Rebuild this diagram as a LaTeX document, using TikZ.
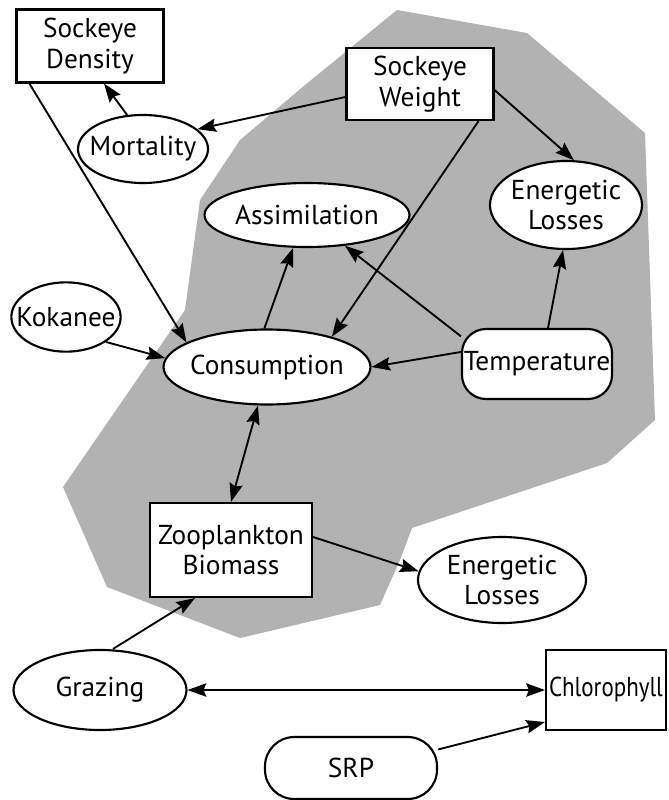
\documentclass[tikz,border=0pt]{standalone}
\usepackage{fontspec}
\setmainfont{PT Sans}
\usetikzlibrary{shapes.geometric,arrows.meta}
\newcommand\lbfont{\fontsize{20.5}{23}\selectfont}
\begin{document}
\begin{tikzpicture}[x=0.75pt,y=-0.75pt,
  base/.style={draw,line width=1.6pt,fill=white,inner sep=0pt},
  box/.style={base,rectangle},
  oval/.style={base,ellipse},
  pill/.style={base,rectangle,rounded corners=18pt},
  txt/.style={label={[align=center,font=\lbfont]center:#1}},
  tip/.tip={Stealth[length=14pt,width=10pt,inset=2pt]},
  arr/.style={line width=1.4pt,-tip},
  darr/.style={line width=1.4pt,tip-tip},
]
\useasboundingbox (0,0) rectangle (668,800);
\fill[white] (0,0) rectangle (668,800);
% shaded region
\fill[black!30] (397,10) -- (527,33) -- (645,133) -- (655,420) -- (607,463)
  -- (427,523) -- (412,528) -- (400,560) -- (380,605) -- (240,638) -- (107,587)
  -- (63,487) -- (185,310) -- (200,200) -- (240,140) -- (305,85) -- cycle;

% nodes
\node[box, minimum width=110.25pt, minimum height=54.75pt, txt={Sockeye\\Density}] (sd) at (90,46) {};
\node[box, minimum width=110.25pt, minimum height=54pt, txt={Sockeye\\Weight}] (sw) at (420,84) {};
\node[oval, minimum width=97.5pt, minimum height=51pt, txt={Mortality}] (mort) at (143,149) {};
\node[oval, minimum width=114pt, minimum height=66pt, txt={Energetic\\Losses}] (elt) at (566,205) {};
\node[oval, minimum width=153.75pt, minimum height=48pt, txt={Assimilation}] (assim) at (307,215) {};
\node[oval, minimum width=82pt, minimum height=52pt, txt={Kokanee}] (kok) at (66,317) {};
\node[oval, minimum width=155.25pt, minimum height=56.25pt, txt={Consumption}] (cons) at (267,367) {};
\node[pill, minimum width=112.5pt, minimum height=52.5pt, txt={Temperature}] (temp) at (537,364) {};
\node[box, minimum width=121.5pt, minimum height=70.5pt, txt={Zooplankton\\Biomass}] (zoo) at (231,550) {};
\node[oval, minimum width=126pt, minimum height=64.5pt, txt={Energetic\\Losses}] (el2) at (502,580) {};
\node[oval, minimum width=129.75pt, minimum height=60pt, txt={Grazing}] (graz) at (100,690) {};
\node[box, minimum width=90pt, minimum height=60pt, txt={\scalebox{0.84}[1]{Chlorophyll}}] (chl) at (606,690) {};
\node[pill, minimum width=129pt, minimum height=46.5pt, rounded corners=22pt, txt={SRP}] (srp) at (351,768) {};

% connectors
\draw[arr] ([xshift=10.5pt]sd.south west) -- (cons.163);
\draw[arr] (mort.115) -- ([xshift=10.5pt]sd.south);
\draw[arr] ([yshift=-9.75pt]sw.west) -- (mort.20);
\draw[arr] ([yshift=-4.5pt]sw.east) -- (elt.80);
\draw[arr] ([xshift=-12pt]sw.south east) -- (cons.25);
\draw[arr] ([xshift=-2pt]cons.north) -- ([xshift=-10.5pt]assim.south);
\draw[arr] (temp.160) -- (assim.-39);
\draw[arr] ([xshift=8.25pt]temp.north) -- ([xshift=-2.25pt]elt.south);
\draw[arr] (temp.171) -- (cons.east);
\draw[arr] (kok.-32) -- (cons.175);
\draw[darr] (zoo.north) -- ([xshift=-6.75pt]cons.south);
\draw[arr] ([yshift=9.75pt]zoo.east) -- (el2.174);
\draw[arr] ([xshift=9.75pt]graz.north) -- ([xshift=-27pt]zoo.south);
\draw[darr] (graz.east) -- (chl.west);
\draw[arr] (srp.12) -- ([yshift=-24pt]chl.west);
\end{tikzpicture}
\end{document}
